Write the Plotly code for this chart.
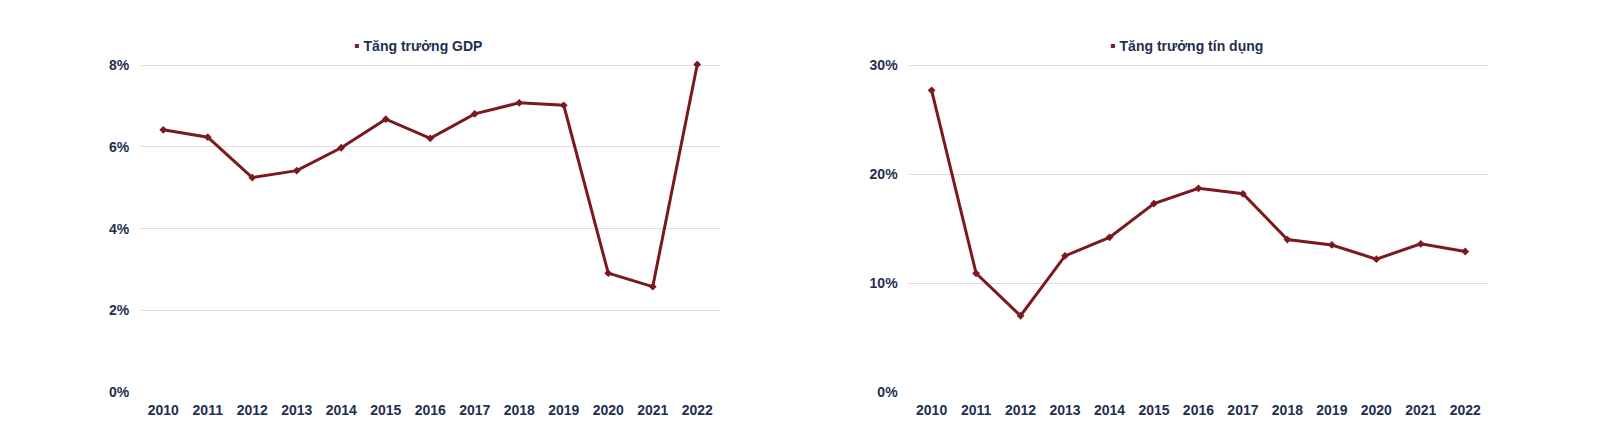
import plotly.graph_objects as go

years = ["2010", "2011", "2012", "2013", "2014", "2015", "2016", "2017", "2018", "2019", "2020", "2021", "2022"]
gdp_growth = [6.42, 6.24, 5.25, 5.42, 5.98, 6.68, 6.21, 6.81, 7.08, 7.02, 2.91, 2.58, 8.02]
credit_growth = [27.7, 10.9, 7.0, 12.5, 14.2, 17.3, 18.7, 18.2, 14.0, 13.5, 12.2, 13.6, 12.9]
gdp_ticks = [0, 2, 4, 6, 8]
credit_ticks = [0, 10, 20, 30]
gdp_name = "Tăng trưởng GDP"
credit_name = "Tăng trưởng tín dụng"

RED = "#7b1a1e"
NAVY = "#1f3050"
GRID = "#dcdde3"
FONT = "Liberation Sans"

fig = go.Figure()
fig.add_trace(go.Scatter(x=years, y=gdp_growth, mode="lines+markers", name=gdp_name,
                         line=dict(color=RED, width=3),
                         marker=dict(symbol="diamond", size=6, color=RED),
                         cliponaxis=False,
                         xaxis="x", yaxis="y", showlegend=False))
fig.add_trace(go.Scatter(x=years, y=credit_growth, mode="lines+markers", name=credit_name,
                         line=dict(color=RED, width=3),
                         marker=dict(symbol="diamond", size=6, color=RED),
                         cliponaxis=False,
                         xaxis="x2", yaxis="y2", showlegend=False))

tickfont = dict(family=FONT, size=14, color=NAVY, weight="bold")
# plot area: 0 at y=392px, top tick at y=65.3px, plus ~8px headroom
ydom = [1 - 392 / 445, 1 - 57.1 / 445]

xcommon = dict(type="category", range=[-0.5, len(years) - 0.5],
               showgrid=False, zeroline=False, showline=False,
               ticks="outside", ticklen=5, tickcolor="rgba(0,0,0,0)", tickfont=tickfont,
               automargin=False, fixedrange=True)
ycommon = dict(showgrid=True, gridcolor=GRID, gridwidth=1, zeroline=True,
               zerolinecolor="rgba(0,0,0,0)", showline=False, ticks="outside", ticklen=8,
               tickcolor="rgba(0,0,0,0)", tickfont=tickfont, tickmode="array",
               automargin=False, fixedrange=True)

legend_font = dict(family=FONT, size=14, color=NAVY, weight="bold")

fig.update_layout(
    width=1600, height=445,
    margin=dict(l=0, r=0, t=0, b=0),
    paper_bgcolor="white", plot_bgcolor="white",
    showlegend=False,
    xaxis=dict(domain=[141 / 1600, 719.5 / 1600], anchor="y", **xcommon),
    yaxis=dict(domain=ydom, anchor="x", range=[0, 8.2], tickvals=gdp_ticks,
               ticktext=[f"{v}%" for v in gdp_ticks], **ycommon),
    xaxis2=dict(domain=[909.4 / 1600, 1487.5 / 1600], anchor="y2", **xcommon),
    yaxis2=dict(domain=ydom, anchor="x2", range=[0, 30.75], tickvals=credit_ticks,
                ticktext=[f"{v}%" for v in credit_ticks], **ycommon),
    annotations=[
        dict(x=418 / 1600, y=1 - 45 / 445, xref="paper", yref="paper", showarrow=False,
             xanchor="center", yanchor="middle",
             text=f'<span style="color:{RED};font-size:16px">▪</span> {gdp_name}',
             font=legend_font),
        dict(x=1186 / 1600, y=1 - 45 / 445, xref="paper", yref="paper", showarrow=False,
             xanchor="center", yanchor="middle",
             text=f'<span style="color:{RED};font-size:16px">▪</span> {credit_name}',
             font=legend_font),
    ],
)

fig.write_html("out.html")
